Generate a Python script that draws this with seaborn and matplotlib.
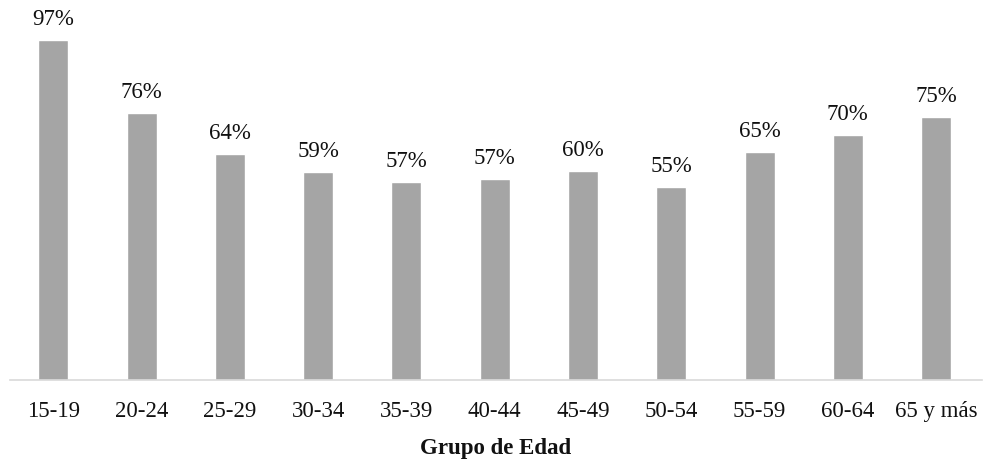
import matplotlib
matplotlib.use("Agg")
import matplotlib.pyplot as plt
import seaborn as sns
import pandas as pd

# Porcentaje por grupo de edad
grupos = ["15-19", "20-24", "25-29", "30-34", "35-39", "40-44",
          "45-49", "50-54", "55-59", "60-64", "65 y más"]
porcentajes = [97.0, 76.3, 64.4, 59.3, 56.6, 57.4, 59.6, 55.0, 65.0, 69.9, 75.0]

df = pd.DataFrame({"grupo": grupos, "pct": porcentajes})

sns.set_theme(style="white")
plt.rcParams["font.family"] = ["Liberation Serif", "DejaVu Serif"]

fig = plt.figure(figsize=(9.84, 4.64), dpi=100)
ax = fig.add_axes([10 / 984, 1 - 381.2 / 464, 972 / 984, 350.7 / 464])

sns.barplot(data=df, x="grupo", y="pct", color="#a5a5a5", width=0.34,
            saturation=1, ax=ax)

ax.set_ylim(0, 100)
ax.set_xlim(-0.49, 10.52)

for i, v in enumerate(porcentajes):
    ax.annotate(f"{v:.0f}%", xy=(i, v), xytext=(0, 8), textcoords="offset points",
                ha="center", va="bottom", fontsize=16.5, color="#111111",
                clip_on=False, annotation_clip=False)

for s in ["top", "left", "right"]:
    ax.spines[s].set_visible(False)
ax.spines["bottom"].set_color("#d9d9d9")
ax.spines["bottom"].set_linewidth(1.2)

ax.set_yticks([])
ax.set_ylabel("")
ax.tick_params(axis="x", length=0, pad=14.5, labelsize=16.5, labelcolor="#111111")
ax.set_xlabel("Grupo de Edad", fontsize=16.5, fontweight="bold", color="#111111",
              labelpad=11)

fig.savefig("out.png", dpi=100, facecolor="white")
